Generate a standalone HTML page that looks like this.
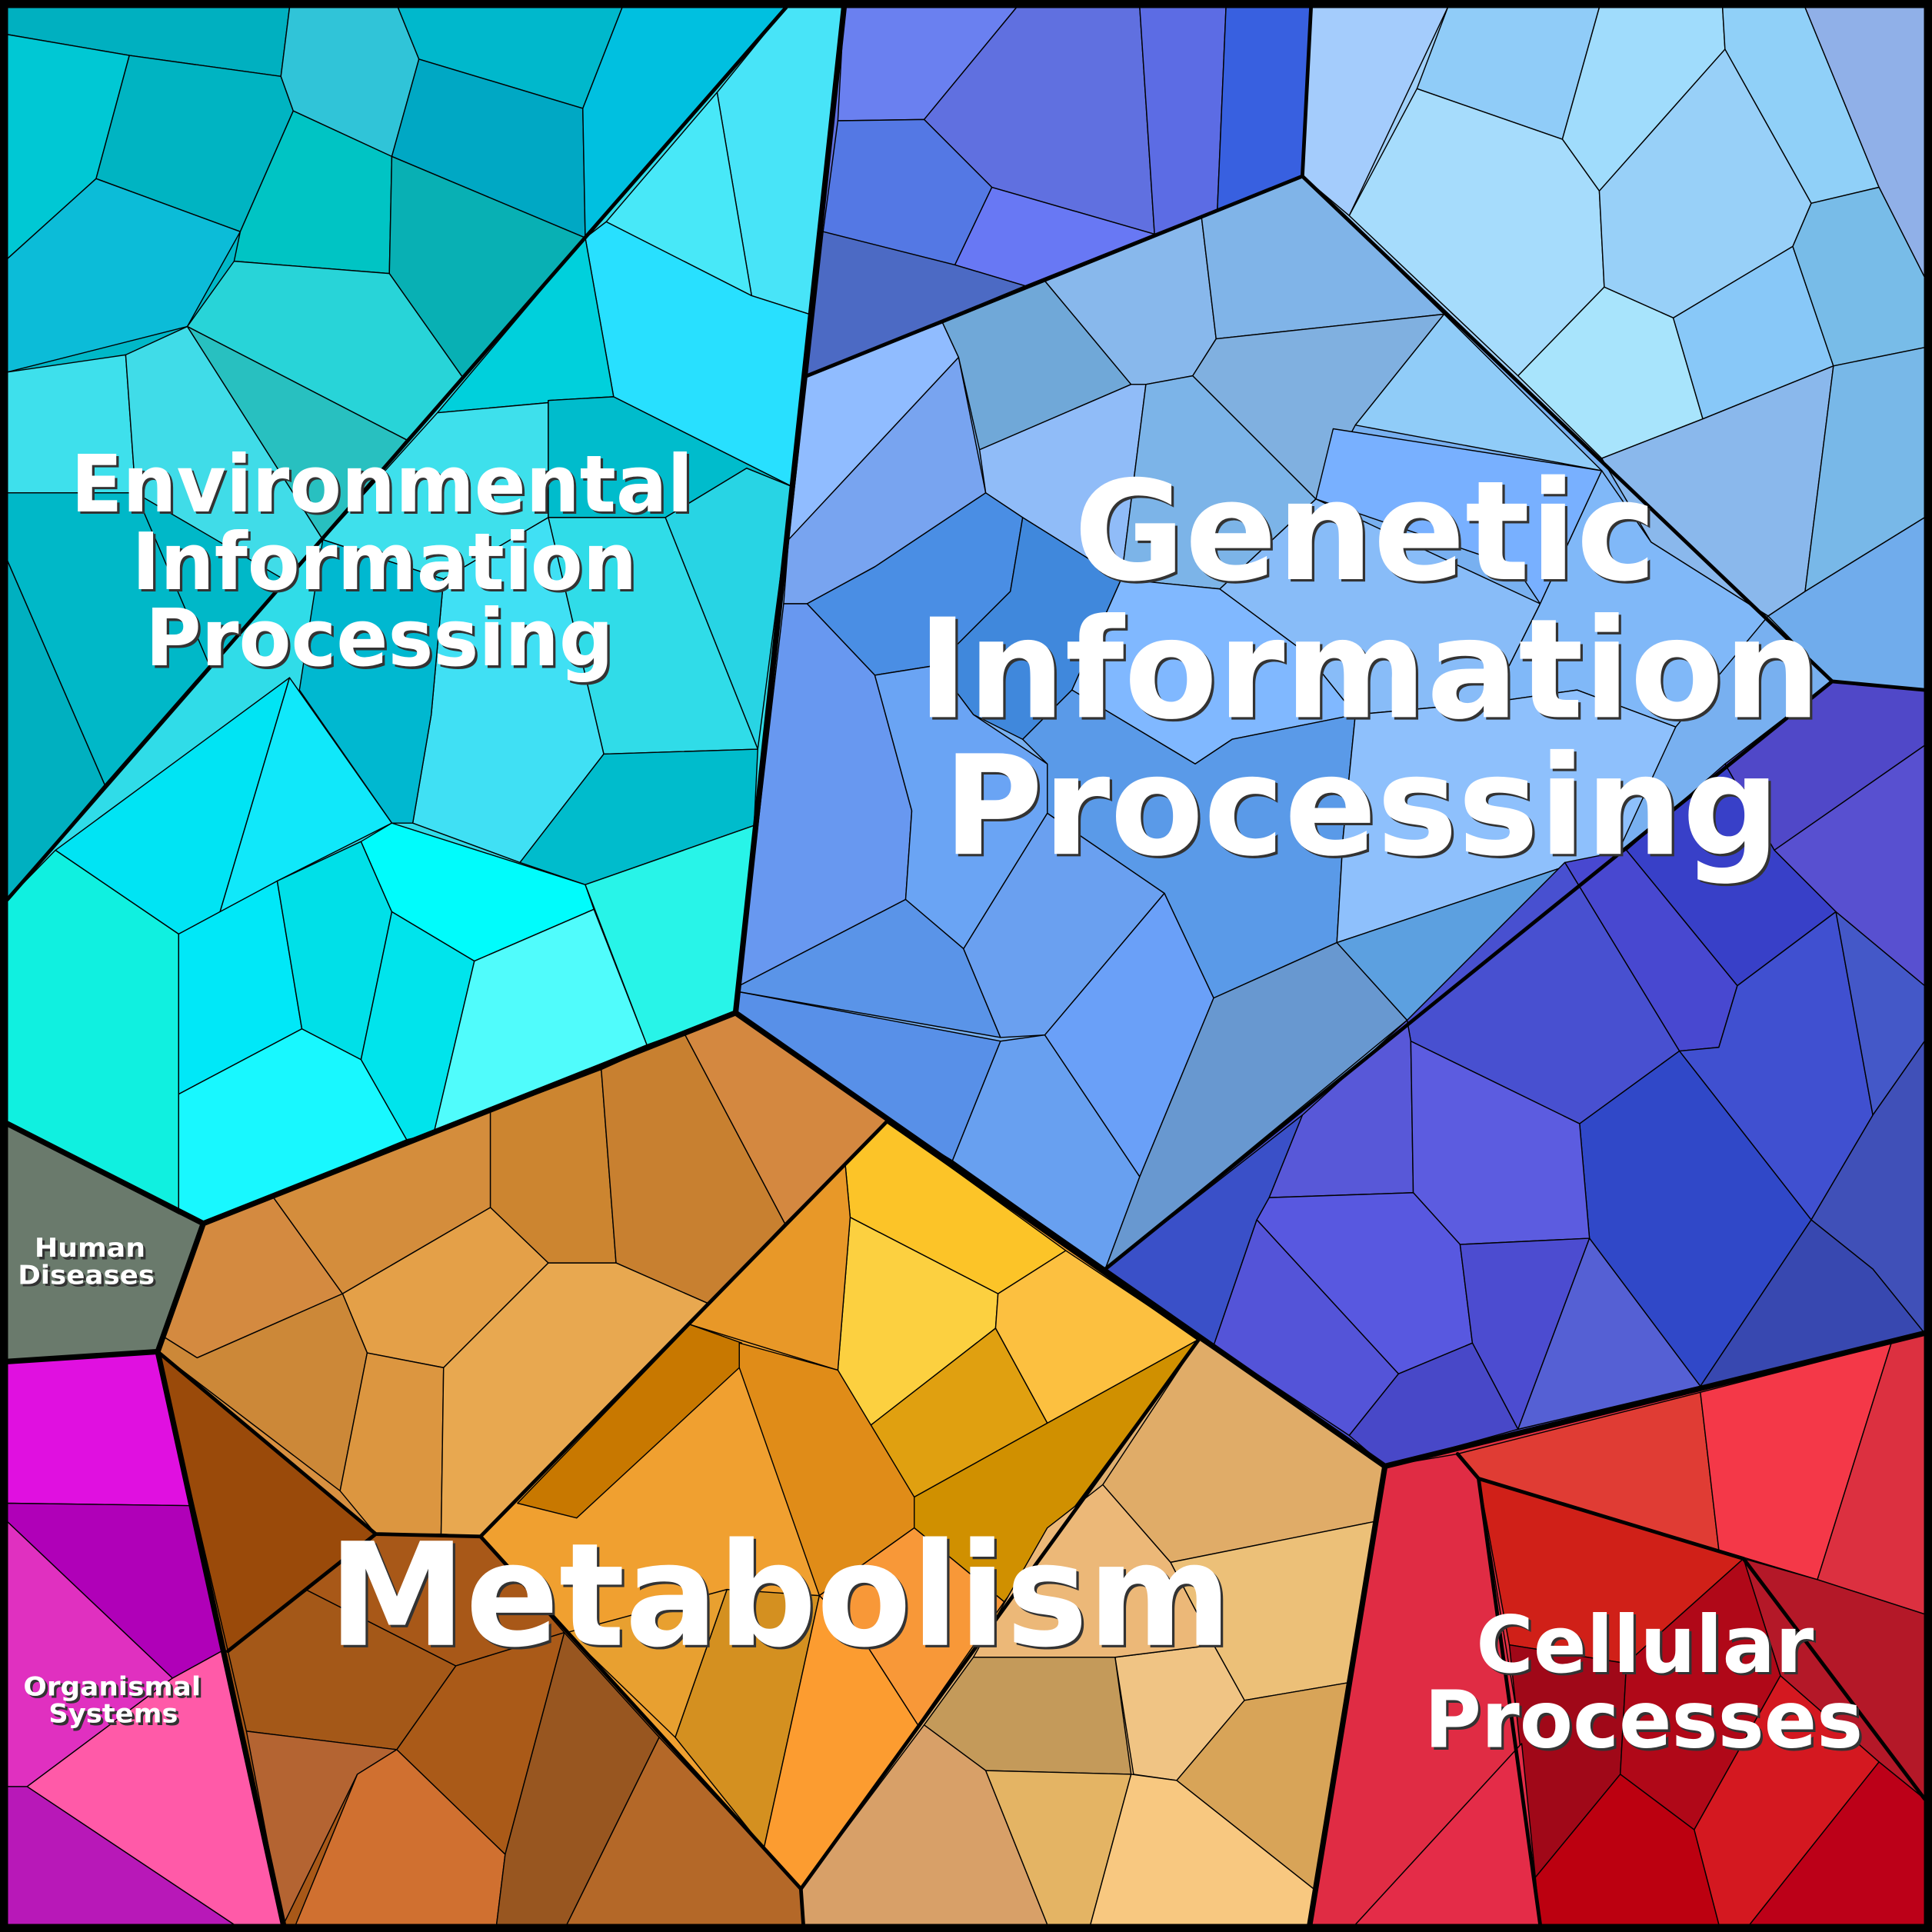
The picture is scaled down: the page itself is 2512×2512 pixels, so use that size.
<!DOCTYPE html>
<html><head><meta charset="utf-8"><style>html,body{margin:0;padding:0;background:#000}svg{display:block}</style></head>
<body>
<svg xmlns="http://www.w3.org/2000/svg" width="2512" height="2512" viewBox="0 0 1568 1568">
<g stroke="#000" stroke-width="0.9" stroke-linejoin="round">
<!-- base regions -->
<polygon points="6,6 638,6 6,730" fill="#00b8c8"/>
<polygon points="638,6 685,6 597,822 165,993 6,912 6,730" fill="#30dce8"/>
<polygon points="685,6 1064,6 1057,143 655,305" fill="#6070e0"/>
<polygon points="1064,6 1562,6 1562,560 1487,553 1057,143" fill="#a0d0f8"/>
<polygon points="655,305 1057,143 1487,553 897,1030 597,822" fill="#78b0f0"/>
<polygon points="897,1030 1487,553 1562,560 1562,1082 1124,1190" fill="#4a50d0"/>
<polygon points="6,912 165,993 128,1097 6,1105" fill="#6a7a6c"/>
<polygon points="165,993 597,822 720,910 390,1247 305,1245 128,1097" fill="#d89040"/>
<polygon points="720,910 973,1087 650,1533 390,1247" fill="#f0a030"/>
<polygon points="973,1087 1124,1190 1063,1562 652,1562 650,1533" fill="#e0b070"/>
<polygon points="128,1097 305,1245 390,1247 650,1533 652,1562 230,1562" fill="#a85818"/>
<polygon points="1124,1190 1562,1082 1562,1562 1063,1562" fill="#e03040"/>

<!-- Env upper-left cells -->
<polygon points="6,6 235,6 228,62 105,45 6,28" fill="#00b0c0"/>
<polygon points="6,28 105,45 78,145 6,210" fill="#00c8d4"/>
<polygon points="105,45 228,62 238,90 195,188 78,145" fill="#00b4c2"/>
<polygon points="6,210 78,145 195,188 152,265 6,302" fill="#0cbcd8"/>
<polygon points="235,6 323,6 340,48 318,127 238,90 228,62" fill="#30c4d8"/>
<polygon points="323,6 505,6 473,88 340,48" fill="#00b8cc"/>
<polygon points="340,48 473,88 475,193 318,127" fill="#00a8c4"/>
<polygon points="505,6 638,6 475,193 473,88" fill="#00c0e0"/>
<polygon points="238,90 318,127 316,222 190,212 195,188" fill="#00c4c4"/>
<polygon points="318,127 475,193 376,307 316,222" fill="#08b0b4"/>
<polygon points="190,212 316,222 376,307 330,357 152,265" fill="#28d4d8"/>
<polygon points="152,265 330,357 262,438" fill="#28c0c0"/>
<polygon points="6,302 102,288 110,400 6,400" fill="#3ee0ec"/>
<polygon points="102,288 152,265 262,438 230,470 110,400" fill="#40dce8"/>
<polygon points="6,400 110,400 170,540 85,637 6,455" fill="#00b8c8"/>
<polygon points="6,455 85,637 6,730" fill="#00b0c0"/>

<!-- Env lower-right cells -->
<polygon points="638,6 685,6 657,255 610,240 582,75" fill="#48e4f8"/>
<polygon points="582,75 610,240 492,180" fill="#48e8f8"/>
<polygon points="475,193 492,180 610,240 657,255 643,395 498,322" fill="#28e0ff"/>
<polygon points="475,193 498,322 355,335" fill="#00d0dc"/>
<polygon points="355,335 498,322 445,325 445,420 360,470 262,438" fill="#3ee0ec"/>
<polygon points="445,325 498,322 643,395 606,380 540,420 445,420" fill="#00bccc"/>
<polygon points="540,420 606,380 643,395 615,608" fill="#28d4e4"/>
<polygon points="445,420 540,420 615,608 490,612" fill="#30dce8"/>
<polygon points="360,470 445,420 490,612 422,700 335,668 350,580" fill="#40e0f4"/>
<polygon points="262,438 360,470 350,580 335,668 318,668 243,560" fill="#00b8d0"/>
<polygon points="490,612 615,608 612,670 475,718 422,700" fill="#00bccc"/>
<polygon points="6,730 45,690 145,758 145,985 6,912" fill="#10f0e0"/>
<polygon points="45,690 235,550 178,742 145,758" fill="#00e4f4"/>
<polygon points="235,550 318,668 225,715 178,742" fill="#10e8fa"/>
<polygon points="145,758 225,715 245,835 145,888" fill="#00e8f8"/>
<polygon points="225,715 293,683 318,740 293,860 245,835" fill="#00e0e8"/>
<polygon points="293,683 318,668 475,718 482,738 385,780 318,740" fill="#00fcfc"/>
<polygon points="318,740 385,780 352,920 330,925 293,860" fill="#00e4ec"/>
<polygon points="385,780 482,738 525,848 352,920" fill="#50fcfc"/>
<polygon points="475,718 612,670 597,822 525,848" fill="#28f4e8"/>
<polygon points="145,888 245,835 293,860 330,925 165,993 145,985" fill="#18f8ff"/>

<!-- Genetic top-left -->
<polygon points="685,6 825,6 750,97 680,98" fill="#6a80f0"/>
<polygon points="825,6 925,6 937,190 805,152 750,97" fill="#6070e0"/>
<polygon points="925,6 995,6 988,170 937,190" fill="#5c6ce4"/>
<polygon points="995,6 1064,6 1057,143 988,170" fill="#3860e0"/>
<polygon points="680,98 750,97 805,152 775,215 668,188" fill="#5478e4"/>
<polygon points="805,152 937,190 832,232 775,215" fill="#6878f4"/>
<polygon points="668,188 775,215 832,232 655,305" fill="#4c6ac4"/>

<!-- Genetic top-right -->
<polygon points="1064,6 1175,6 1095,175 1057,143" fill="#a4ccfc"/>
<polygon points="1175,6 1298,6 1268,113 1150,72" fill="#90ccf8"/>
<polygon points="1298,6 1398,6 1400,40 1298,155 1268,113" fill="#a0dcfc"/>
<polygon points="1398,6 1465,6 1525,152 1470,165 1400,40" fill="#90d0f8"/>
<polygon points="1465,6 1562,6 1562,225 1525,152" fill="#90b0e8"/>
<polygon points="1150,72 1268,113 1298,155 1302,233 1232,305 1095,175" fill="#a6dcfc"/>
<polygon points="1298,155 1400,40 1470,165 1455,200 1358,258 1302,233" fill="#98d0f8"/>
<polygon points="1232,305 1302,233 1358,258 1382,340 1300,372" fill="#a8e4fc"/>
<polygon points="1358,258 1455,200 1488,297 1382,340" fill="#88c8f8"/>
<polygon points="1455,200 1470,165 1525,152 1562,225 1562,282 1488,297" fill="#78bce8"/>
<polygon points="1300,372 1382,340 1488,297 1465,480 1435,500 1340,440" fill="#8ab8ec"/>
<polygon points="1488,297 1562,282 1562,420 1465,480" fill="#78b8e8"/>
<polygon points="1465,480 1562,420 1562,560 1487,553 1435,500" fill="#70acec"/>

<!-- Genetic middle -->
<polygon points="655,305 765,262 778,290 640,438" fill="#90bcff"/>
<polygon points="640,438 778,290 800,400 710,460 655,490 636,490" fill="#78a4f0"/>
<polygon points="765,262 848,228 918,312 795,365 778,290" fill="#70a8d8"/>
<polygon points="848,228 975,175 987,275 968,305 930,312 918,312" fill="#88b8ec"/>
<polygon points="975,175 1057,143 1172,255 987,275" fill="#80b4e8"/>
<polygon points="795,365 918,312 930,312 910,470 830,420 800,400" fill="#90bcf8"/>
<polygon points="930,312 968,305 1068,405 990,478 910,470" fill="#7cb4e8"/>
<polygon points="968,305 987,275 1172,255 1100,345 1068,405" fill="#80b0e0"/>
<polygon points="1172,255 1300,382 1100,345" fill="#90ccf8"/>
<polygon points="1082,348 1300,382 1250,490 1230,460 1068,405" fill="#78b0ff"/>
<polygon points="710,460 800,400 830,420 820,480 760,540 710,548 655,490" fill="#4a8ee4"/>
<polygon points="760,540 820,480 830,420 910,470 870,560 830,600 790,580" fill="#4088dc"/>
<polygon points="636,490 655,490 710,548 740,658 735,730 600,800" fill="#6898f0"/>
<polygon points="710,548 760,540 790,580 850,620 850,660 782,770 735,730 740,658" fill="#6aa4f4"/>
<polygon points="910,470 990,478 1060,530 1100,580 1000,600 970,620 870,560" fill="#80b8ff"/>
<polygon points="990,478 1068,405 1250,490 1210,570 1100,580 1060,530" fill="#88bcf8"/>
<polygon points="1250,490 1300,382 1340,440 1435,500 1360,590 1280,560 1210,570" fill="#80b8f8"/>
<polygon points="870,560 970,620 1000,600 1100,580 1090,680 1085,765 985,810 945,725 850,660 850,620 830,600" fill="#5a9ae8"/>
<polygon points="1100,580 1210,570 1280,560 1360,590 1300,720 1280,700 1085,765 1090,680" fill="#8ec0fc"/>
<polygon points="600,805 812,845 773,942 720,910 597,822" fill="#5890e8"/>
<polygon points="600,800 735,730 782,770 812,842 600,805" fill="#5a94e8"/>
<polygon points="782,770 850,660 945,725 848,840 812,842" fill="#6aa0f0"/>
<polygon points="812,845 848,840 925,955 897,1030 773,942" fill="#68a0f0"/>
<polygon points="848,840 945,725 985,810 925,955" fill="#6aa0f8"/>
<polygon points="985,810 1085,765 1142,828 897,1030 925,955" fill="#6898d0"/>
<polygon points="1085,765 1280,700 1300,720 1142,828" fill="#5ca0e0"/>

<!-- Genetic bottom-right -->
<polygon points="1487,553 1562,560 1562,605 1440,690 1400,620" fill="#5048c8"/>
<polygon points="1440,690 1562,605 1562,800 1490,740" fill="#5850d0"/>
<polygon points="1320,690 1400,620 1440,690 1490,740 1410,800" fill="#3840c8"/>
<polygon points="1270,700 1320,690 1410,800 1395,850 1363,853" fill="#4848d0"/>
<polygon points="1142,828 1270,700 1363,853 1282,912 1145,845" fill="#4850d0"/>
<polygon points="1395,850 1410,800 1490,740 1520,905 1470,990 1363,853" fill="#4050d0"/>
<polygon points="1282,912 1363,853 1470,990 1380,1125 1290,1005" fill="#3048c8"/>
<polygon points="1490,740 1562,800 1562,845 1520,905" fill="#4458c8"/>
<polygon points="1520,905 1562,845 1562,1082 1520,1030 1470,990" fill="#4050b8"/>
<polygon points="1470,990 1520,1030 1562,1082 1390,1125 1380,1125" fill="#3848b0"/>
<polygon points="1057,905 1142,828 1145,845 1147,968 1030,972" fill="#5858d8"/>
<polygon points="1145,845 1282,912 1290,1005 1185,1010 1147,968" fill="#5c5ce0"/>
<polygon points="1030,972 1147,968 1185,1010 1195,1090 1135,1115 1020,990" fill="#5858e0"/>
<polygon points="1185,1010 1290,1005 1232,1160 1195,1090" fill="#4c4cd0"/>
<polygon points="897,1030 1057,905 1030,972 1020,990 985,1092" fill="#3a50c8"/>
<polygon points="985,1092 1020,990 1135,1115 1095,1165" fill="#5454d8"/>
<polygon points="1095,1165 1135,1115 1195,1090 1232,1160 1124,1190" fill="#4848c8"/>
<polygon points="1232,1160 1290,1005 1380,1125" fill="#5560d4"/>

<!-- Metabolism top -->
<polygon points="165,993 222,972 278,1050 160,1102 133,1085" fill="#d48a40"/>
<polygon points="222,972 398,902 398,980 278,1050" fill="#d48d3c"/>
<polygon points="398,902 488,868 500,1025 445,1025 398,980" fill="#cc8530"/>
<polygon points="488,868 555,838 637,993 575,1058 500,1025" fill="#c88030"/>
<polygon points="555,838 597,822 720,910 637,993" fill="#d48840"/>
<polygon points="278,1050 398,980 445,1025 360,1110 298,1098" fill="#e4a048"/>
<polygon points="160,1102 278,1050 298,1098 276,1210 128,1097 133,1085" fill="#cc8838"/>
<polygon points="298,1098 360,1110 358,1245 305,1245 276,1210" fill="#dc9640"/>
<polygon points="360,1110 445,1025 500,1025 575,1058 560,1075 390,1247 358,1245" fill="#e8a850"/>
<!-- yellow -->
<polygon points="686,945 720,910 865,1015 810,1050 690,988" fill="#fcc428"/>
<polygon points="690,988 810,1050 808,1078 705,1158 680,1112" fill="#fcd040"/>
<polygon points="810,1050 865,1015 973,1087 850,1155 808,1078" fill="#fcc040"/>
<polygon points="705,1158 808,1078 850,1155 742,1215" fill="#e0a010"/>
<polygon points="560,1075 686,945 690,988 680,1112" fill="#e89828"/>
<!-- orange centre -->
<polygon points="420,1220 560,1075 602,1090 600,1110 468,1232" fill="#c87800"/>
<polygon points="600,1090 680,1112 742,1215 742,1240 665,1295 600,1110" fill="#e08c18"/>
<polygon points="742,1215 850,1155 973,1087 815,1300 742,1240" fill="#d09000"/>
<polygon points="665,1295 742,1240 815,1300 745,1400 700,1330" fill="#f89838"/>
<polygon points="548,1410 590,1290 665,1295 620,1500" fill="#d49020"/>
<polygon points="460,1325 590,1290 548,1410" fill="#e8a030"/>
<polygon points="620,1500 665,1295 700,1330 745,1400 650,1533" fill="#fc9c30"/>
<!-- right tan -->
<polygon points="973,1087 1124,1190 1115,1235 950,1268 895,1205" fill="#e0ac68"/>
<polygon points="950,1268 1115,1235 1098,1365 1010,1380 985,1335" fill="#ecc078"/>
<polygon points="985,1335 1010,1380 955,1445 920,1440 905,1345" fill="#f0c484"/>
<polygon points="895,1205 950,1268 985,1335 905,1345 790,1345 850,1240" fill="#ecb878"/>
<polygon points="790,1345 905,1345 918,1440 800,1437 750,1400" fill="#c49a5a"/>
<polygon points="1010,1380 1098,1365 1075,1540 955,1445" fill="#d8a458"/>
<polygon points="652,1562 650,1533 750,1400 800,1437 850,1562" fill="#d8a068"/>
<polygon points="800,1437 918,1440 885,1562 850,1562" fill="#e4b464"/>
<polygon points="918,1440 955,1445 1075,1540 1063,1562 885,1562" fill="#f8c880"/>
<!-- bottom-left brown -->
<polygon points="128,1097 305,1245 185,1340" fill="#9a4a0a"/>
<polygon points="185,1340 248,1290 370,1352 322,1420 200,1405" fill="#a45818"/>
<polygon points="248,1290 305,1245 390,1247 458,1325 370,1352" fill="#a85818"/>
<polygon points="370,1352 458,1325 410,1505 322,1420" fill="#aa5a18"/>
<polygon points="200,1405 322,1420 290,1440 230,1562" fill="#b46432"/>
<polygon points="322,1420 410,1505 403,1562 240,1562 290,1440" fill="#d07030"/>
<polygon points="458,1325 535,1410 460,1562 403,1562 410,1505" fill="#985620"/>
<polygon points="535,1410 650,1533 652,1562 460,1562" fill="#b46828"/>
<!-- organismal -->
<polygon points="6,1105 128,1097 155,1222 6,1220" fill="#e010e0"/>
<polygon points="6,1220 155,1222 180,1340 140,1362 6,1235" fill="#b000b8"/>
<polygon points="6,1235 140,1362 22,1450 6,1450" fill="#e030c0"/>
<polygon points="22,1450 140,1362 180,1340 230,1562 190,1562" fill="#ff5aa8"/>
<polygon points="6,1450 22,1450 190,1562 6,1562" fill="#b818b8"/>
<!-- cellular -->
<polygon points="1124,1190 1183,1180 1200,1200 1235,1415 1100,1562 1063,1562" fill="#e02c44"/>
<polygon points="1183,1180 1380,1130 1395,1258 1200,1200" fill="#e03c34"/>
<polygon points="1380,1130 1535,1090 1475,1282 1395,1258" fill="#f43848"/>
<polygon points="1535,1090 1562,1082 1562,1310 1475,1282" fill="#dc3040"/>
<polygon points="1200,1200 1415,1265 1320,1350 1225,1335" fill="#d02018"/>
<polygon points="1415,1265 1475,1282 1562,1310 1562,1460 1525,1430 1445,1360" fill="#b41828"/>
<polygon points="1225,1335 1320,1350 1315,1440 1245,1525" fill="#a00818"/>
<polygon points="1320,1350 1415,1265 1445,1360 1375,1485 1315,1440" fill="#b00818"/>
<polygon points="1375,1485 1445,1360 1525,1430 1420,1562 1395,1562" fill="#d41820"/>
<polygon points="1245,1525 1315,1440 1375,1485 1395,1562 1250,1562" fill="#bc0010"/>
<polygon points="1420,1562 1525,1430 1562,1460 1562,1562" fill="#bc0018"/>
<polygon points="1100,1562 1235,1415 1250,1562" fill="#e42c48"/>
</g>

<!-- thick boundaries -->
<g fill="none" stroke="#000" stroke-width="3" stroke-linejoin="round" stroke-linecap="round">
<polyline points="638,6 6,730"/>
<polyline points="655,305 1057,143 1064,6"/>
<polyline points="1057,143 1487,553 1562,560"/>
<polyline points="897,1030 1487,553"/>
<polyline points="720,910 390,1247 305,1245 128,1097"/>
<polyline points="305,1245 185,1340"/>
<polyline points="720,910 973,1087 650,1533 390,1247"/>
<polyline points="650,1533 652,1562"/>
<polyline points="1183,1180 1200,1200 1250,1562"/>
<polyline points="1200,1200 1415,1265 1562,1460"/>
</g>
<g fill="none" stroke="#000" stroke-width="4.5" stroke-linejoin="round" stroke-linecap="round">
<polyline points="685,6 597,822 165,993 128,1097 230,1562"/>
<polyline points="6,912 165,993"/>
<polyline points="6,1105 128,1097"/>
<polyline points="597,822 1124,1190 1562,1082"/>
<polyline points="1124,1190 1063,1562"/>
</g>
<rect x="3" y="3" width="1562" height="1562" fill="none" stroke="#000" stroke-width="7"/>

<!-- labels -->
<g font-family="'DejaVu Sans','Liberation Sans',sans-serif" font-weight="bold" text-anchor="middle" lengthAdjust="spacingAndGlyphs">
<g fill="#333" transform="translate(2,2)">
<text x="310" y="415" font-size="64" textLength="505" lengthAdjust="spacingAndGlyphs">Environmental</text>
<text x="312" y="478" font-size="64" textLength="410" lengthAdjust="spacingAndGlyphs">Information</text>
<text x="308" y="540" font-size="64" textLength="380" lengthAdjust="spacingAndGlyphs">Processing</text>
<text x="1108" y="470" font-size="112" textLength="473" lengthAdjust="spacingAndGlyphs">Genetic</text>
<text x="1111" y="582" font-size="112" textLength="733" lengthAdjust="spacingAndGlyphs">Information</text>
<text x="1105" y="693" font-size="112" textLength="679" lengthAdjust="spacingAndGlyphs">Processing</text>
<text x="633" y="1335" font-size="116" textLength="733" lengthAdjust="spacingAndGlyphs">Metabolism</text>
<text x="1335" y="1357" font-size="64" textLength="274" lengthAdjust="spacingAndGlyphs">Cellular</text>
<text x="1334" y="1418" font-size="64" textLength="356" lengthAdjust="spacingAndGlyphs">Processes</text>
<text x="73" y="1020" font-size="21" textLength="90" lengthAdjust="spacingAndGlyphs">Human</text>
<text x="70" y="1042" font-size="21" textLength="111" lengthAdjust="spacingAndGlyphs">Diseases</text>
<text x="91" y="1376" font-size="21" textLength="144" lengthAdjust="spacingAndGlyphs">Organismal</text>
<text x="92" y="1398" font-size="21" textLength="105" lengthAdjust="spacingAndGlyphs">Systems</text>
</g>
<g fill="#fff">
<text x="310" y="415" font-size="64" textLength="505" lengthAdjust="spacingAndGlyphs">Environmental</text>
<text x="312" y="478" font-size="64" textLength="410" lengthAdjust="spacingAndGlyphs">Information</text>
<text x="308" y="540" font-size="64" textLength="380" lengthAdjust="spacingAndGlyphs">Processing</text>
<text x="1108" y="470" font-size="112" textLength="473" lengthAdjust="spacingAndGlyphs">Genetic</text>
<text x="1111" y="582" font-size="112" textLength="733" lengthAdjust="spacingAndGlyphs">Information</text>
<text x="1105" y="693" font-size="112" textLength="679" lengthAdjust="spacingAndGlyphs">Processing</text>
<text x="633" y="1335" font-size="116" textLength="733" lengthAdjust="spacingAndGlyphs">Metabolism</text>
<text x="1335" y="1357" font-size="64" textLength="274" lengthAdjust="spacingAndGlyphs">Cellular</text>
<text x="1334" y="1418" font-size="64" textLength="356" lengthAdjust="spacingAndGlyphs">Processes</text>
<text x="73" y="1020" font-size="21" textLength="90" lengthAdjust="spacingAndGlyphs">Human</text>
<text x="70" y="1042" font-size="21" textLength="111" lengthAdjust="spacingAndGlyphs">Diseases</text>
<text x="91" y="1376" font-size="21" textLength="144" lengthAdjust="spacingAndGlyphs">Organismal</text>
<text x="92" y="1398" font-size="21" textLength="105" lengthAdjust="spacingAndGlyphs">Systems</text>
</g>
</g>
</svg>
</body></html>
